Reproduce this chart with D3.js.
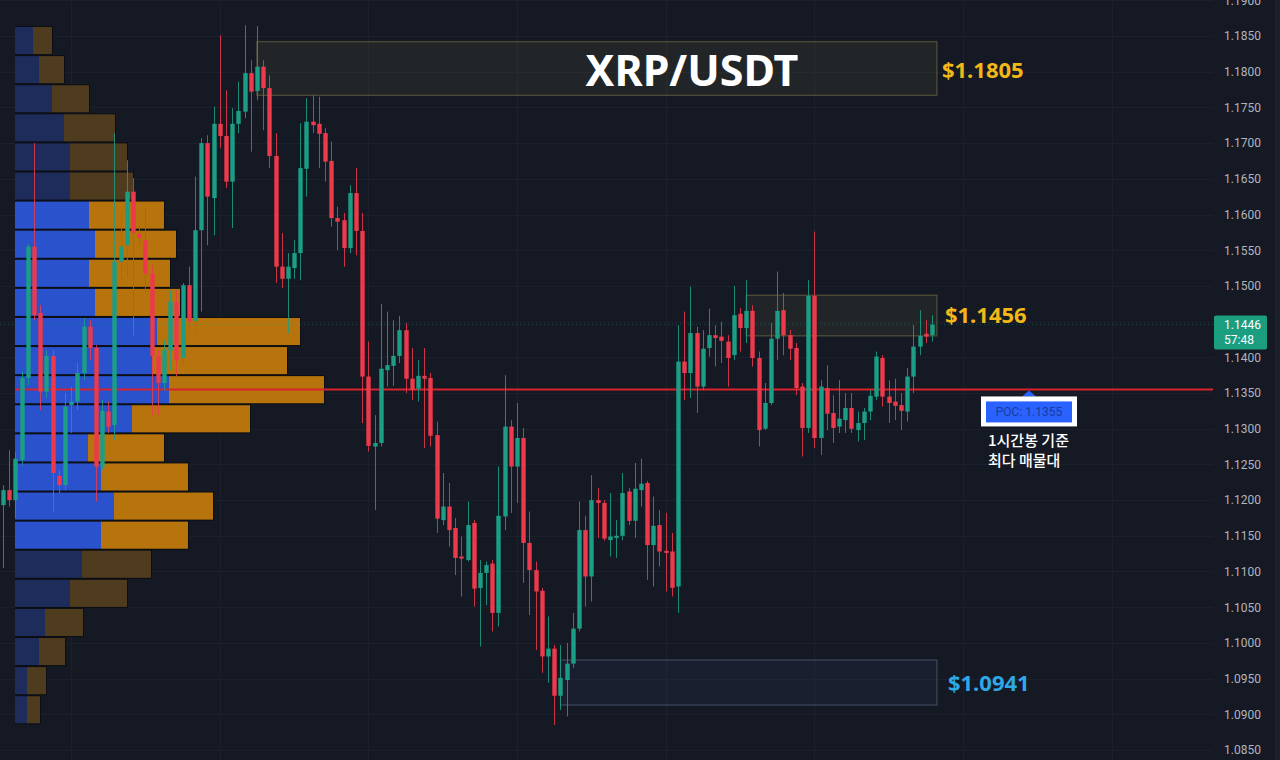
<!DOCTYPE html>
<html><head><meta charset="utf-8">
<script src="https://cdn.jsdelivr.net/npm/d3@7"></script>
<style>html,body{margin:0;padding:0;background:#151924;overflow:hidden}svg{display:block}</style>
</head><body><svg id="chart" width="1280" height="760"></svg>
<script>
// ---- data (1h candles, XRP/USDT) ----
const opens  = [1.1193,1.1214,1.1200,1.1256,1.1371,1.1555,1.1462,1.1352,1.1402,1.1234,1.1221,1.1333,1.1338,1.1378,1.1443,1.1413,1.1247,1.1324,1.1305,1.1534,1.1557,1.1632,1.1573,1.1564,1.1517,1.1401,1.1364,1.1410,1.1478,1.1399,1.1501,1.1451,1.1578,1.1700,1.1623,1.1727,1.1710,1.1646,1.1727,1.1744,1.1798,1.1773,1.1807,1.1777,1.1682,1.1527,1.1510,1.1525,1.1546,1.1664,1.1730,1.1727,1.1714,1.1675,1.1595,1.1592,1.1553,1.1630,1.1577,1.1373,1.1275,1.1280,1.1382,1.1388,1.1402,1.1438,1.1370,1.1356,1.1374,1.1371,1.1291,1.1172,1.1191,1.1161,1.1121,1.1116,1.1168,1.1077,1.1098,1.1111,1.1042,1.1177,1.1303,1.1247,1.1287,1.1140,1.1102,1.1073,1.0981,1.0992,1.0926,1.0948,1.0971,1.1020,1.1158,1.1093,1.1200,1.1196,1.1144,1.1147,1.1150,1.1212,1.1171,1.1214,1.1224,1.1137,1.1165,1.1129,1.1128,1.1079,1.1394,1.1378,1.1434,1.1359,1.1413,1.1431,1.1429,1.1422,1.1403,1.1461,1.1441,1.1465,1.1399,1.1300,1.1336,1.1426,1.1466,1.1431,1.1413,1.1359,1.1301,1.1486,1.1287,1.1357,1.1322,1.1303,1.1312,1.1329,1.1298,1.1308,1.1324,1.1345,1.1399,1.1345,1.1338,1.1333,1.1324,1.1373,1.1415,1.1433,1.1431];
const highs  = [1.1221,1.1270,1.1268,1.1380,1.1559,1.1700,1.1473,1.1410,1.1410,1.1242,1.1350,1.1359,1.1392,1.1455,1.1452,1.1417,1.1340,1.1338,1.1714,1.1602,1.1676,1.1651,1.1585,1.1609,1.1529,1.1410,1.1424,1.1494,1.1494,1.1504,1.1527,1.1653,1.1707,1.1711,1.1751,1.1851,1.1774,1.1749,1.1786,1.1865,1.1816,1.1864,1.1816,1.1795,1.1714,1.1574,1.1546,1.1564,1.1728,1.1763,1.1767,1.1765,1.1721,1.1702,1.1611,1.1602,1.1641,1.1665,1.1602,1.1422,1.1319,1.1475,1.1464,1.1452,1.1458,1.1448,1.1413,1.1396,1.1413,1.1378,1.1310,1.1238,1.1224,1.1175,1.1149,1.1198,1.1172,1.1116,1.1114,1.1116,1.1247,1.1375,1.1312,1.1336,1.1301,1.1184,1.1114,1.1077,1.1037,1.0997,1.0997,1.1000,1.1042,1.1198,1.1178,1.1235,1.1217,1.1200,1.1210,1.1172,1.1238,1.1217,1.1252,1.1258,1.1227,1.1205,1.1186,1.1182,1.1154,1.1445,1.1464,1.1499,1.1443,1.1438,1.1468,1.1445,1.1450,1.1431,1.1500,1.1469,1.1508,1.1473,1.1408,1.1364,1.1448,1.1520,1.1490,1.1438,1.1420,1.1364,1.1508,1.1576,1.1368,1.1389,1.1347,1.1368,1.1350,1.1350,1.1324,1.1329,1.1354,1.1408,1.1403,1.1368,1.1370,1.1350,1.1385,1.1445,1.1466,1.1452,1.1459];
const lows   = [1.1105,1.1191,1.1175,1.1249,1.1361,1.1452,1.1326,1.1343,1.1184,1.1210,1.1214,1.1294,1.1326,1.1368,1.1396,1.1198,1.1242,1.1294,1.1284,1.1508,1.1513,1.1429,1.1557,1.1490,1.1319,1.1319,1.1354,1.1382,1.1373,1.1389,1.1438,1.1434,1.1464,1.1557,1.1571,1.1693,1.1637,1.1581,1.1714,1.1735,1.1688,1.1760,1.1718,1.1665,1.1504,1.1497,1.1434,1.1510,1.1508,1.1625,1.1714,1.1665,1.1646,1.1583,1.1550,1.1527,1.1546,1.1543,1.1308,1.1268,1.1186,1.1275,1.1359,1.1360,1.1392,1.1350,1.1340,1.1338,1.1273,1.1275,1.1154,1.1165,1.1135,1.1095,1.1065,1.1114,1.1051,1.0995,1.1053,1.1016,1.1023,1.1158,1.1182,1.1196,1.1084,1.1039,1.0990,1.0958,1.0944,1.0885,1.0906,1.0897,1.0965,1.1016,1.1051,1.1058,1.1147,1.1143,1.1121,1.1119,1.1144,1.1165,1.1147,1.1191,1.1088,1.1079,1.1107,1.1072,1.1065,1.1042,1.1340,1.1343,1.1322,1.1354,1.1401,1.1387,1.1392,1.1359,1.1396,1.1408,1.1420,1.1387,1.1275,1.1298,1.1333,1.1396,1.1403,1.1396,1.1347,1.1261,1.1294,1.1273,1.1263,1.1298,1.1280,1.1294,1.1294,1.1294,1.1282,1.1284,1.1312,1.1340,1.1331,1.1308,1.1312,1.1298,1.1310,1.1350,1.1403,1.1420,1.1422];
const closes = [1.1214,1.1200,1.1258,1.1371,1.1555,1.1459,1.1352,1.1402,1.1238,1.1221,1.1331,1.1338,1.1378,1.1443,1.1413,1.1247,1.1325,1.1303,1.1534,1.1555,1.1632,1.1574,1.1567,1.1517,1.1402,1.1364,1.1410,1.1478,1.1396,1.1501,1.1450,1.1578,1.1700,1.1625,1.1727,1.1710,1.1646,1.1727,1.1745,1.1798,1.1772,1.1807,1.1777,1.1682,1.1527,1.1510,1.1527,1.1546,1.1665,1.1730,1.1725,1.1713,1.1674,1.1595,1.1590,1.1553,1.1630,1.1577,1.1373,1.1276,1.1280,1.1384,1.1389,1.1402,1.1438,1.1370,1.1354,1.1374,1.1370,1.1290,1.1174,1.1191,1.1158,1.1119,1.1118,1.1165,1.1076,1.1098,1.1109,1.1042,1.1178,1.1303,1.1247,1.1287,1.1140,1.1102,1.1072,1.0981,1.0992,1.0926,1.0951,1.0971,1.1020,1.1158,1.1093,1.1200,1.1196,1.1146,1.1149,1.1150,1.1210,1.1171,1.1216,1.1223,1.1137,1.1164,1.1128,1.1126,1.1077,1.1394,1.1378,1.1434,1.1359,1.1412,1.1431,1.1427,1.1423,1.1399,1.1459,1.1441,1.1465,1.1399,1.1298,1.1336,1.1426,1.1465,1.1431,1.1412,1.1357,1.1301,1.1486,1.1287,1.1359,1.1321,1.1301,1.1314,1.1329,1.1300,1.1308,1.1324,1.1346,1.1401,1.1345,1.1336,1.1332,1.1325,1.1373,1.1415,1.1430,1.1429,1.1446];

// volume profile (top row first), buy / sell volume
const profileBuy  = [18,24,37,49,55,55,74,80,74,80,142,137,154,117,73,86,99,86,67,55,30,24,12,12];
const profileSell = [19,25,37,51,57,63,75,81,81,85,143,135,155,118,76,87,99,87,69,57,38,26,19,13];
const profileHigh = 1.1864, profileLow = 1.0886;
const valueAreaHigh = 1.1620, valueAreaLow = 1.1130;
const pocPrice = 1.1355;

// zones
const zoneTops    = [1.1842, 1.1487, 1.0976];
const zoneBottoms = [1.1767, 1.1430, 1.0913];
const zoneStarts  = [41, 120, 90];
const zoneLabels  = ["$1.1805", "$1.1456", "$1.0941"];
const zoneLabelPrices = [1.1805, 1.1456, 1.0941];

const yTicks = d3.range(0, 22).map(i => +(1.085 + i * 0.005).toFixed(4));
const dayGridIdx = [11, 35, 59, 83, 107, 131, 155, 179];
const lastPrice = 1.1446, countdown = "57:48";

// ---- drawing ----
const W = 1280, H = 760, plotRight = 1213;
const svg = d3.select('#chart');
svg.append('rect').attr('width', W).attr('height', H).attr('fill', '#151924');

const x = d3.scaleLinear().domain([0, 150]).range([3, 932]);
const y = d3.scaleLinear().domain([1.085, 1.19]).range([750, 0.3]);

// grid
const grid = svg.append('g');
grid.selectAll('line.h').data(yTicks).join('line')
  .attr('x1', 0).attr('x2', plotRight)
  .attr('y1', d => Math.round(y(d)) + 0.5).attr('y2', d => Math.round(y(d)) + 0.5)
  .attr('stroke', '#1c202c').attr('stroke-width', 1);
grid.selectAll('line.v').data(dayGridIdx).join('line')
  .attr('x1', d => Math.round(x(d)) + 0.5).attr('x2', d => Math.round(x(d)) + 0.5)
  .attr('y1', 0).attr('y2', H)
  .attr('stroke', '#1c202c').attr('stroke-width', 1);

// zones
const zoneEnd = 150.8;
const zoneFill = ['rgba(110,108,60,0.15)', 'rgba(110,108,60,0.15)', 'rgba(50,70,100,0.16)'];
const zoneStroke = ['rgba(150,140,80,0.55)', 'rgba(150,140,80,0.55)', 'rgba(90,105,130,0.7)'];
const zones = zoneTops.map((t, i) => ({ t, b: zoneBottoms[i], s: zoneStarts[i], i }));
svg.append('g').selectAll('rect').data(zones).join('rect')
  .attr('x', d => x(d.s)).attr('width', d => x(zoneEnd) - x(d.s))
  .attr('y', d => y(d.t)).attr('height', d => y(d.b) - y(d.t))
  .attr('fill', d => zoneFill[d.i]).attr('stroke', d => zoneStroke[d.i]).attr('stroke-width', 1);

// volume profile
const nBins = profileBuy.length;
const binSize = (profileHigh - profileLow) / nBins;
const xv = d3.scaleLinear().domain([0, 309]).range([15, 324]);
const rows = profileBuy.map((b, k) => {
  const top = profileHigh - k * binSize, bot = top - binSize, mid = (top + bot) / 2;
  return { b, s: profileSell[k], top, bot, inVA: mid <= valueAreaHigh && mid >= valueAreaLow };
});
const prof = svg.append('g');
const rg = prof.selectAll('g').data(rows).join('g');
rg.append('rect')
  .attr('x', xv(0)).attr('width', d => xv(d.b + d.s) - xv(0) + 1)
  .attr('y', d => y(d.top)).attr('height', d => y(d.bot) - y(d.top))
  .attr('fill', '#0c0e13');
rg.append('rect')
  .attr('x', xv(0)).attr('width', d => xv(d.b) - xv(0))
  .attr('y', d => y(d.top) + 1).attr('height', d => y(d.bot) - y(d.top) - 2)
  .attr('fill', d => d.inVA ? '#2952cc' : '#1d2c5a');
rg.append('rect')
  .attr('x', d => xv(d.b)).attr('width', d => xv(d.b + d.s) - xv(d.b))
  .attr('y', d => y(d.top) + 1).attr('height', d => y(d.bot) - y(d.top) - 2)
  .attr('fill', d => d.inVA ? '#b8740c' : '#4f3b1e');

// POC line
svg.append('line').attr('x1', xv(0)).attr('x2', plotRight)
  .attr('y1', y(pocPrice)).attr('y2', y(pocPrice))
  .attr('stroke', '#d9232c').attr('stroke-width', 2);

// last price dotted line
svg.append('line').attr('x1', 0).attr('x2', plotRight)
  .attr('y1', Math.round(y(lastPrice)) + 0.5).attr('y2', Math.round(y(lastPrice)) + 0.5)
  .attr('stroke', '#1a9e84').attr('stroke-dasharray', '1,3').attr('stroke-opacity', 0.35);

// candles
const candles = opens.map((o, i) => ({ i, o, h: highs[i], l: lows[i], c: closes[i] }));
const up = '#1b9e85', down = '#ec3a4c';
const cg = svg.append('g').selectAll('g').data(candles).join('g');
cg.append('line')
  .attr('x1', d => Math.round(x(d.i)) + 0.5).attr('x2', d => Math.round(x(d.i)) + 0.5)
  .attr('y1', d => y(d.h)).attr('y2', d => y(d.l))
  .attr('stroke', d => d.c >= d.o ? up : down).attr('stroke-width', 1).attr('stroke-opacity', 0.85);
const bw = 4.4;
cg.append('rect')
  .attr('x', d => Math.round(x(d.i)) + 0.5 - bw / 2).attr('width', bw)
  .attr('y', d => y(Math.max(d.o, d.c)))
  .attr('height', d => Math.max(1.5, Math.abs(y(d.o) - y(d.c))))
  .attr('fill', d => d.c >= d.o ? up : down);

// title
svg.append('text').attr('x', 692).attr('y', y(1.1805) + 1)
  .attr('text-anchor', 'middle').attr('dominant-baseline', 'central')
  .attr('font-family', '"Noto Sans", "Open Sans", sans-serif').attr('font-weight', 700)
  .attr('font-size', 43).attr('fill', '#ffffff').text('XRP/USDT');

// zone labels
const labelColors = ['#f2b818', '#f2b818', '#2ea8e6'];
const labelDy = [1, -3, -3];
const labelDx = [5, 8, 11];
svg.append('g').selectAll('text').data(zoneLabels).join('text')
  .attr('x', (d, i) => x(zoneEnd) + labelDx[i])
  .attr('y', (d, i) => y(zoneLabelPrices[i]) + labelDy[i])
  .attr('dominant-baseline', 'central')
  .attr('font-family', '"Noto Sans", "Open Sans", sans-serif').attr('font-weight', 700)
  .attr('font-size', 22).attr('fill', (d, i) => labelColors[i]).text(d => d);

// POC annotation
const px = 1029, py = y(pocPrice);
svg.append('path').attr('d', `M${px - 7},${py + 7} L${px},${py + 1} L${px + 7},${py + 7} Z`).attr('fill', '#2962ff');
svg.append('rect').attr('x', px - 48).attr('y', py + 7).attr('width', 96).attr('height', 30).attr('fill', '#ffffff');
svg.append('rect').attr('x', px - 43).attr('y', py + 12).attr('width', 86).attr('height', 21).attr('fill', '#2962ff');
svg.append('text').attr('x', px).attr('y', py + 23).attr('text-anchor', 'middle').attr('dominant-baseline', 'central')
  .attr('font-family', 'Roboto, "Noto Sans", sans-serif').attr('font-size', 12).attr('fill', '#1a3a9c')
  .text('POC: ' + pocPrice.toFixed(4));
const note = svg.append('text').attr('font-family', '"Noto Sans CJK KR", "Noto Sans", sans-serif')
  .attr('font-size', 15).attr('font-weight', 500).attr('fill', '#ffffff');
note.append('tspan').attr('x', 988).attr('y', 446).text('1시간봉 기준');
note.append('tspan').attr('x', 988).attr('y', 466).text('최다 매물대');

// right axis (the tick hidden under the last-price tag is left out)
const tagTop = y(lastPrice) - 9, tagBottom = y(lastPrice) + 25;
const visibleTicks = yTicks.filter(t => y(t) + 7 < tagTop || y(t) - 7 > tagBottom);
const axis = svg.append('g').attr('transform', 'translate(1224,0)')
  .call(d3.axisRight(y).tickValues(visibleTicks).tickSize(0).tickPadding(0).tickFormat(d3.format('.4f')));
axis.select('.domain').remove();
axis.selectAll('text').attr('fill', '#b2b5be').attr('font-size', 12)
  .attr('font-family', 'Roboto, "Noto Sans", sans-serif');
svg.append('rect').attr('x', 1275).attr('y', 0).attr('width', 5).attr('height', H).attr('fill', '#1c202b');

// last price tag
const ty = y(lastPrice);
svg.append('rect').attr('x', 1214).attr('y', ty - 9).attr('width', 53).attr('height', 34).attr('rx', 2).attr('fill', '#1b9e80');
svg.append('text').attr('x', 1224).attr('y', ty + 1).attr('dominant-baseline', 'central')
  .attr('font-family', 'Roboto, "Noto Sans", sans-serif').attr('font-size', 12).attr('fill', '#ffffff')
  .text(lastPrice.toFixed(4));
svg.append('text').attr('x', 1224).attr('y', ty + 16).attr('dominant-baseline', 'central')
  .attr('font-family', 'Roboto, "Noto Sans", sans-serif').attr('font-size', 12).attr('fill', '#ffffff')
  .text(countdown);
</script>
</body></html>
